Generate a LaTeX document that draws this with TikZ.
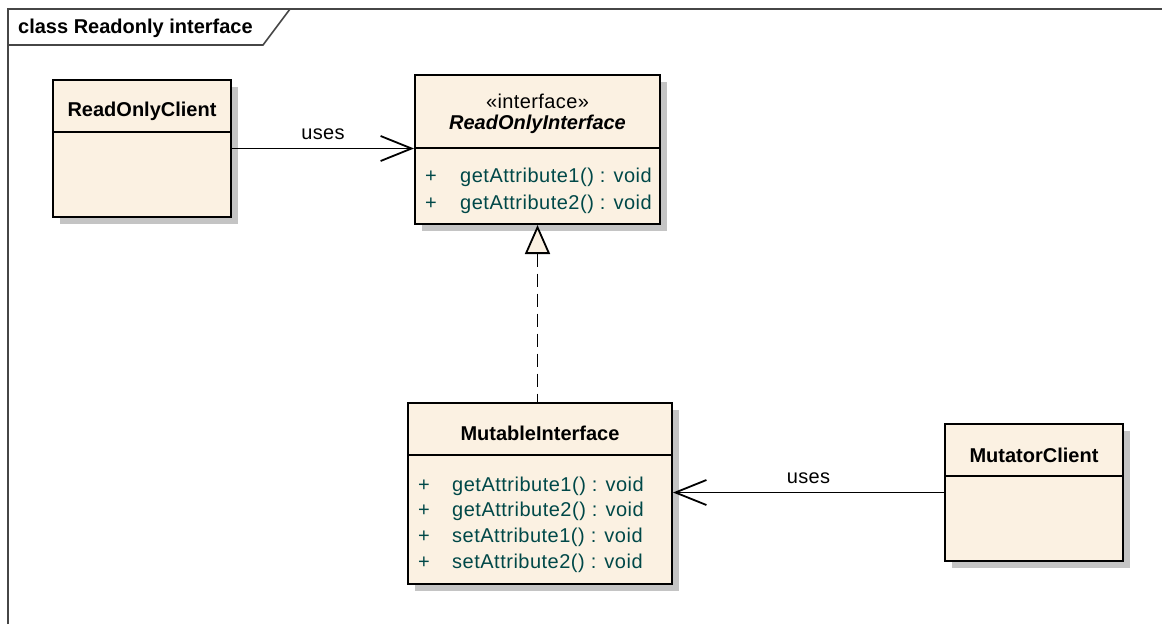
\documentclass[tikz,border=0pt]{standalone}
\usepackage{fontspec}
\setmainfont{Liberation Sans}
\usetikzlibrary{arrows.meta,shadows}
\definecolor{umlfill}{RGB}{251,241,226}
\definecolor{umlshadow}{RGB}{196,196,196}
\definecolor{umlop}{RGB}{0,72,72}
\definecolor{framecol}{RGB}{70,70,70}

\begin{document}
\begin{tikzpicture}[x=1pt,y=-1pt,
  cls/.style={draw=black,line width=2pt,fill=umlfill,anchor=north west,inner sep=0pt,
    drop shadow={shadow xshift=7pt,shadow yshift=-7pt,fill=umlshadow,opacity=1}},
  sep/.style={line width=2pt},
  cname/.style={inner sep=0pt,font=\fontsize{20}{24}\selectfont\bfseries},
  stereo/.style={inner sep=0pt,font=\fontsize{20}{24}\selectfont\addfontfeature{LetterSpace=2}},
  op/.style={inner sep=0pt,text=umlop,font=\fontsize{20}{24}\selectfont\addfontfeature{LetterSpace=2.5}},
  uses/.style={line width=1.8pt,-{Straight Barb[length=31pt,width=25pt,line width=1.8pt]}},
  realize/.style={line width=1.8pt,dash pattern=on 13pt off 7pt,
    {Triangle[length=29pt,width=25pt,fill=umlfill,line width=1.8pt]}-},
  frame/.style={draw=framecol,line width=1.6pt}]
  \useasboundingbox (0,0) rectangle (1162,624);
  % diagram frame
  \draw[frame] (8,624) -- (8,9) -- (1162,9);
  \draw[frame] (8,45) -- (263,45) -- (290,9);
  \node[cname,anchor=west] (ttl) at (18,28) {class Readonly interface};
  % classes
  \node[cls,minimum width=178pt,minimum height=137pt] (roc) at (52,79) {};
  \node[cls,minimum width=245pt,minimum height=149pt] (roi) at (414,74) {};
  \node[cls,minimum width=264pt,minimum height=181pt] (mi) at (407,402) {};
  \node[cls,minimum width=178pt,minimum height=137pt] (mc) at (944,423) {};
  \draw[sep] ([yshift=-53pt]roc.north west) -- ([yshift=-53pt]roc.north east);
  \draw[sep] ([yshift=-74pt]roi.north west) -- ([yshift=-74pt]roi.north east);
  \draw[sep] ([yshift=-53pt]mi.north west) -- ([yshift=-53pt]mi.north east);
  \draw[sep] ([yshift=-53pt]mc.north west) -- ([yshift=-53pt]mc.north east);
  \node[cname] (roc-t) at ([yshift=-32pt]roc.north) {ReadOnlyClient};
  \node[stereo] (roi-s) at ([yshift=-27pt]roi.north) {«interface»};
  \node[cname,font=\fontsize{20}{24}\selectfont\bfseries\itshape] (roi-t) at ([yshift=-50pt]roi.north) {ReadOnlyInterface};
  \node[cname] (mi-t) at ([yshift=-31pt]mi.north) {MutableInterface};
  \node[cname] (mc-t) at ([yshift=-32pt]mc.north) {MutatorClient};
  % operations
  \node[op] (roi-p1) at ([xshift=17pt,yshift=-103pt]roi.north west) {+};
  \node[op,anchor=west] (roi-o1) at ([xshift=46pt,yshift=-103pt]roi.north west) {getAttribute1() : void};
  \node[op] (roi-p2) at ([xshift=17pt,yshift=-130pt]roi.north west) {+};
  \node[op,anchor=west] (roi-o2) at ([xshift=46pt,yshift=-130pt]roi.north west) {getAttribute2() : void};
  \node[op] (mi-p1) at ([xshift=17pt,yshift=-84pt]mi.north west) {+};
  \node[op,anchor=west] (mi-o1) at ([xshift=45pt,yshift=-84pt]mi.north west) {getAttribute1() : void};
  \node[op] (mi-p2) at ([xshift=17pt,yshift=-109pt]mi.north west) {+};
  \node[op,anchor=west] (mi-o2) at ([xshift=45pt,yshift=-109pt]mi.north west) {getAttribute2() : void};
  \node[op] (mi-p3) at ([xshift=17pt,yshift=-135pt]mi.north west) {+};
  \node[op,anchor=west] (mi-o3) at ([xshift=45pt,yshift=-135pt]mi.north west) {setAttribute1() : void};
  \node[op] (mi-p4) at ([xshift=17pt,yshift=-161pt]mi.north west) {+};
  \node[op,anchor=west] (mi-o4) at ([xshift=45pt,yshift=-161pt]mi.north west) {setAttribute2() : void};
  % connectors
  \draw[uses] (roc.east) -- node[stereo,above=8pt] {uses} (roc.east -| roi.west);
  \draw[uses] (mc.west) -- node[stereo,above=8pt] {uses} (mc.west -| mi.east);
  \draw[realize] (roi.south) -- (roi.south |- mi.north);
\end{tikzpicture}
\end{document}
